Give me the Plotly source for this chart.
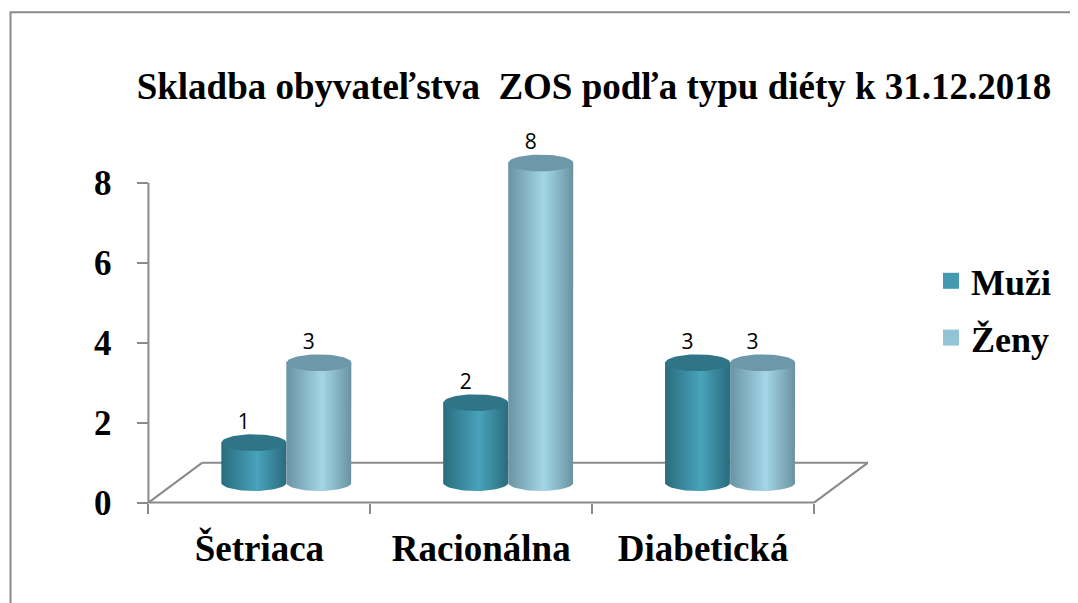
import numpy as np
import plotly.graph_objects as go

# ---------------- data ----------------
categories = ["Šetriaca", "Racionálna", "Diabetická"]
series_names = ["Muži", "Ženy"]
muzi = [1, 2, 3]
zeny = [3, 8, 3]
y_ticks = [0, 2, 4, 6, 8]
title_text = "Skladba obyvateľstva  ZOS podľa typu diéty k 31.12.2018"

# ---------------- style / geometry ----------------
PAGE_OFF = 8                 # browser body margin
W, H = 1078 - PAGE_OFF, 603 - PAGE_OFF
SERIF = "Liberation Serif"
SANS = "Open Sans"
GRAY = "#8a8a8a"

body_scales = [
    [[0, "#2a6c7e"], [0.55, "#48a3bb"], [1, "#2b6b7d"]],
    [[0, "#6a93a3"], [0.55, "#a3d6e8"], [1, "#6a92a1"]],
]
cap_colors = ["#2f7587", "#6c98a9"]
legend_colors = ["#4299B0", "#93C4D6"]

depth_x = 0.243      # floor depth in category units
depth_y = 1.0        # floor depth in value units
base = 0.5           # cylinders stand at mid depth
bar_w = 0.293
ry = 0.21            # ellipse vertical radius (value units)
label_dx = -0.045    # labels sit slightly left (perspective)

x_range = [-0.52, 2.5 + depth_x]
y_range = [-0.06, 8.85]
px_x = 222.0
px_y = 40.0
plot_w = (x_range[1] - x_range[0]) * px_x
plot_h = (y_range[1] - y_range[0]) * px_y
axis_left_px = 148 - PAGE_OFF
y8_px = 183 - PAGE_OFF
m_l = axis_left_px - (-0.5 - x_range[0]) * px_x
m_t = y8_px - (y_range[1] - 8) * px_y
m_r = W - m_l - plot_w
m_b = H - m_t - plot_h


def pxx(p):
    """reference-image pixel x -> paper x"""
    return (p - PAGE_OFF - m_l) / plot_w


def pxy(p):
    """reference-image pixel y -> paper y"""
    return (H - m_b - (p - PAGE_OFF)) / plot_h


fig = go.Figure()

t = np.linspace(0, np.pi, 30)
t_full = np.linspace(0, 2 * np.pi, 60)
values = [muzi, zeny]
for ci in range(len(categories)):
    for si in range(2):
        v = values[si][ci]
        cx = ci + depth_x / 2 + (si - 0.5) * bar_w
        hw = bar_w / 2
        top = base + v
        bx = [cx - hw, cx - hw, cx + hw, cx + hw] + list(cx + hw * np.cos(t))
        by = [base, top, top, base] + list(base - ry * np.sin(t))
        fig.add_trace(go.Scatter(
            x=bx, y=by, mode="lines", fill="toself", line=dict(width=0),
            fillgradient=dict(type="horizontal", colorscale=body_scales[si]),
            hoverinfo="skip", showlegend=False))
        fig.add_trace(go.Scatter(
            x=list(cx + hw * np.cos(t_full)), y=list(top + ry * np.sin(t_full)),
            mode="lines", fill="toself", fillcolor=cap_colors[si],
            line=dict(width=0), hoverinfo="skip", showlegend=False))
        fig.add_trace(go.Scatter(
            x=[cx + label_dx], y=[top + ry], mode="text", text=[str(v)],
            textposition="top center", cliponaxis=False,
            textfont=dict(family=SANS, size=21, color="#000000"),
            hoverinfo="skip", showlegend=False))

for si, name in enumerate(series_names):
    fig.add_trace(go.Scatter(
        x=[None], y=[None], mode="markers", name=name, legendgroup=name,
        marker=dict(symbol="square", size=16, color=legend_colors[si])))

line_style = dict(color=GRAY, width=2)
shapes = [
    dict(type="line", xref="x", yref="y", x0=-0.5, y0=0, x1=2.5, y1=0,
         line=line_style, layer="below"),
    dict(type="line", xref="x", yref="y", x0=-0.5, y0=0, x1=-0.5 + depth_x, y1=depth_y,
         line=line_style, layer="below"),
    dict(type="line", xref="x", yref="y", x0=-0.5 + depth_x, y0=depth_y,
         x1=2.5 + depth_x, y1=depth_y, line=line_style, layer="below"),
    dict(type="line", xref="x", yref="y", x0=2.5, y0=0, x1=2.5 + depth_x, y1=depth_y,
         line=line_style, layer="below"),
    dict(type="line", xref="x", yref="y", x0=-0.5, y0=0, x1=-0.5, y1=8,
         line=line_style, layer="below"),
    dict(type="rect", xref="paper", yref="paper", x0=pxx(10), y0=pxy(640),
         x1=pxx(1120), y1=pxy(12), line=line_style),
]

fig.update_layout(
    width=W, height=H,
    paper_bgcolor="white", plot_bgcolor="white",
    margin=dict(l=m_l, r=m_r, t=m_t, b=m_b, autoexpand=False),
    title=dict(text=title_text, x=(594 - PAGE_OFF) / W, xref="container",
               xanchor="center", y=1 - (86 - PAGE_OFF) / H, yref="container",
               yanchor="middle",
               font=dict(family=SERIF, size=37, color="#000000", weight="bold")),
    showlegend=True,
    legend=dict(x=pxx(931), y=pxy(251), xanchor="left", yanchor="top",
                font=dict(family=SERIF, size=36, color="#000000", weight="bold"),
                traceorder="grouped", tracegroupgap=7, itemwidth=30,
                bgcolor="rgba(0,0,0,0)"),
    shapes=shapes,
)

fig.update_xaxes(
    range=x_range, showgrid=False, zeroline=False, showline=False,
    tickmode="array", tickvals=list(range(len(categories))), ticktext=categories,
    ticks="", ticklabelstandoff=20, automargin=False,
    tickfont=dict(family=SERIF, size=37, color="#000000", weight="bold"),
    anchor="free", position=(0 - y_range[0]) / (y_range[1] - y_range[0]),
    minor=dict(ticks="outside", ticklen=10, tickwidth=2, tickcolor=GRAY,
               tick0=-0.5, dtick=1, showgrid=False),
)
fig.update_yaxes(
    range=y_range, showgrid=False, zeroline=False, showline=False,
    tickmode="array", tickvals=y_ticks, ticks="outside", ticklen=11,
    tickwidth=2, tickcolor=GRAY, ticklabelstandoff=19, automargin=False,
    tickfont=dict(family=SERIF, size=35, color="#000000", weight="bold"),
    anchor="free", position=(-0.5 - x_range[0]) / (x_range[1] - x_range[0]),
)

fig.write_html("out.html")
